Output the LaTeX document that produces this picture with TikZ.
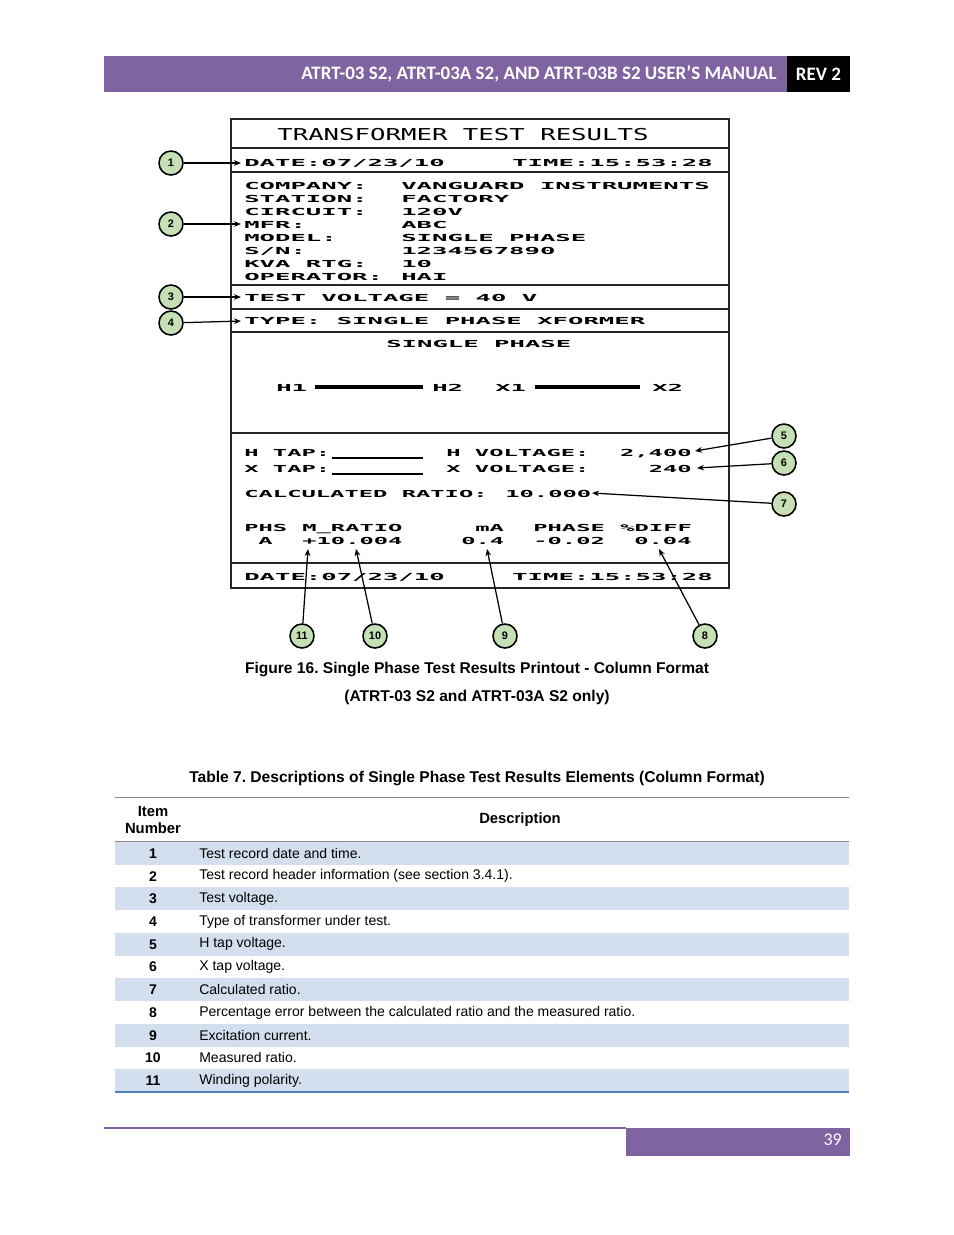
\documentclass[tikz,border=0pt]{standalone}
\usepackage{fontspec}
\setmainfont{Liberation Sans}
\newfontfamily\calib{Carlito}
\newfontfamily\prt[FakeStretch=2.65]{DejaVu Sans Mono Bold}
\newfontfamily\prs[FakeStretch=2.46]{DejaVu Sans Mono Bold}
\newfontfamily\prtT[FakeStretch=1.57]{DejaVu Sans Mono}
\usetikzlibrary{arrows.meta}
\definecolor{vpurple}{RGB}{128,100,162}
\definecolor{callg}{RGB}{197,224,180}
\definecolor{rowblue}{RGB}{211,223,238}
\definecolor{tblue}{RGB}{79,129,189}
\frenchspacing
\begin{document}
\begin{tikzpicture}[x=0.6415pt,y=-0.6415pt,
  ptx/.style={anchor=base west,inner sep=0pt,font=\prt\fontsize{6.2}{6.2}\selectfont},
  psx/.style={anchor=base west,inner sep=0pt,font=\prs\fontsize{6.2}{6.2}\selectfont},
  callout/.style={circle,draw=black,line width=1pt,fill=callg,minimum size=15.4pt,inner sep=0pt,font=\bfseries\fontsize{7}{7}\selectfont},
  arr/.style={-{Stealth[length=4.5pt,width=3.6pt]},line width=0.8pt},
  boxline/.style={line width=1.1pt,draw=black!85},
  rowtxt/.style={anchor=west,inner sep=0pt,font=\fontsize{9}{9}\selectfont},
  rownum/.style={anchor=center,inner sep=0pt,font=\bfseries\fontsize{9}{9}\selectfont},
  capt/.style={anchor=center,inner sep=0pt,font=\bfseries\fontsize{10}{10}\selectfont},
]
\useasboundingbox (0,0) rectangle (954,1235);
\fill[white] (0,0) rectangle (954,1235);

% header bar
\fill[vpurple] (104,56) rectangle (787,92);
\fill[black] (787,56) rectangle (850,92);
\node[anchor=east,inner sep=0pt,text=white,font=\calib\bfseries\fontsize{12.2}{12.2}\selectfont] (htitle) at (777,74) {ATRT-03 S2, ATRT-03A S2, AND ATRT-03B S2 USER’S MANUAL};
\node[anchor=center,inner sep=0pt,text=white,font=\calib\bfseries\fontsize{12.2}{12.2}\selectfont] (hrev) at (818.5,74) {REV 2};

% printout frame
\draw[boxline] (231,119) rectangle (729,588);
\foreach \yy in {148,172,285,309,332,433,563} \draw[boxline] (231,\yy) -- (729,\yy);

% title
\node[anchor=base west,inner sep=0pt,font=\prtT\fontsize{10.5}{10.5}\selectfont] (ttl) at (277,140) {TRANSFORMER TEST RESULTS};
% date lines
\node[ptx] (date1) at (244,166) {DATE:07/23/10};
\node[ptx] (time1) at (512,166) {TIME:15:53:28};
% header info
\node[ptx] (l1) at (244,189) {COMPANY:};   \node[ptx] (r1) at (401,189) {VANGUARD INSTRUMENTS};
\node[ptx] (l2) at (244,202) {STATION:};   \node[ptx] (r2) at (401,202) {FACTORY};
\node[ptx] (l3) at (244,215) {CIRCUIT:};   \node[ptx] (r3) at (401,215) {120V};
\node[ptx] (l4) at (244,228) {MFR:};       \node[ptx] (r4) at (401,228) {ABC};
\node[ptx] (l5) at (244,241) {MODEL:};     \node[ptx] (r5) at (401,241) {SINGLE PHASE};
\node[ptx] (l6) at (244,254) {S/N:};       \node[ptx] (r6) at (401,254) {1234567890};
\node[ptx] (l7) at (244,267) {KVA RTG:};   \node[ptx] (r7) at (401,267) {10};
\node[ptx] (l8) at (244,280) {OPERATOR:};  \node[ptx] (r8) at (401,280) {HAI};
\node[ptx] (tv) at (244,301) {TEST VOLTAGE = 40 V};
\node[ptx] (typ) at (244,324) {TYPE: SINGLE PHASE XFORMER};
\node[ptx] (sp) at (386,347) {SINGLE PHASE};
% winding diagram
\node[ptx] (h1) at (276,391) {H1};
\node[ptx] (h2) at (432,391) {H2};
\node[ptx] (x1) at (495,391) {X1};
\node[ptx] (x2) at (652,391) {X2};
\draw[line width=2pt] (315,387) -- (423,387);
\draw[line width=2pt] (535,387) -- (640,387);
% taps
\node[psx] (htap) at (244,456) {H TAP:};
\node[psx] (xtap) at (244,472) {X TAP:};
\draw[line width=0.8pt] (332,458) -- (423,458);
\draw[line width=0.8pt] (332,474) -- (423,474);
\node[psx] (hv) at (446,456) {H VOLTAGE:};
\node[psx] (xv) at (446,472) {X VOLTAGE:};
\node[psx,anchor=base east] (hvv) at (692,456) {2,400};
\node[psx,anchor=base east] (xvv) at (692,472) {240};
\node[psx] (calc) at (244,497) {CALCULATED RATIO:};
\node[psx] (calcv) at (505,497) {10.000};
% results
\node[psx] (phs) at (244,531) {PHS};
\node[psx] (mr) at (302,531) {M\_RATIO};
\node[psx] (ma) at (475,531) {mA};
\node[psx] (ph) at (533,531) {PHASE};
\node[psx] (df) at (620,531) {\%DIFF};
\node[psx] (va) at (258,544) {A};
\node[psx] (vmr) at (302,544) {+10.004};
\node[psx] (vma) at (461,544) {0.4};
\node[psx] (vph) at (533,544) {-0.02};
\node[psx] (vdf) at (634,544) {0.04};
% bottom date
\node[ptx] (date2) at (244,580) {DATE:07/23/10};
\node[ptx] (time2) at (512,580) {TIME:15:53:28};

% callouts
\node[callout] (c1) at (171,163) {1};
\node[callout] (c2) at (171,224) {2};
\node[callout] (c3) at (171,297) {3};
\node[callout] (c4) at (171,323) {4};
\node[callout] (c5) at (784,436) {5};
\node[callout] (c6) at (784,463) {6};
\node[callout] (c7) at (784,504) {7};
\node[callout] (c8) at (705,636) {8};
\node[callout] (c9) at (505,636) {9};
\node[callout] (c10) at (375,636) {10};
\node[callout] (c11) at (302,636) {11};
\coordinate (t1) at (241,163);
\coordinate (t2) at (241,224);
\coordinate (t3) at (241,297);
\coordinate (t4) at (241,321);
\coordinate (t5) at (695,451);
\coordinate (t6) at (697,468);
\coordinate (t7) at (592,493);
\coordinate (t8) at (659,549);
\coordinate (t9) at (487,549);
\coordinate (t10) at (356,549);
\coordinate (t11) at (308,549);
\foreach \k in {1,...,11} \draw[arr] (c\k) -- (t\k);

% captions
\node[capt] (cap1) at (477,669) {Figure 16. Single Phase Test Results Printout - Column Format};
\node[capt] (cap2) at (477,697) {(ATRT-03 S2 and ATRT-03A S2 only)};
\node[capt] (tcap) at (477,778) {Table 7. Descriptions of Single Phase Test Results Elements (Column Format)};

% table
\foreach \i/\d in {1/Test record date and time.,
  2/Test record header information (see section 3.4.1).,
  3/Test voltage.,
  4/Type of transformer under test.,
  5/H tap voltage.,
  6/X tap voltage.,
  7/Calculated ratio.,
  8/Percentage error between the calculated ratio and the measured ratio.,
  9/Excitation current.,
  10/Measured ratio.,
  11/Winding polarity.}{
  \pgfmathsetmacro\yt{842+(\i-1)*22.73}
  \pgfmathsetmacro\yc{\yt+11.36}
  \ifodd\i \fill[rowblue] (115,\yt) rectangle (849,\yt+22.73); \fi
  \node[rownum] (n\i) at (153,\yc) {\i};
  \node[rowtxt] (d\i) at (199,\yc) {\d};
}
\draw[line width=0.6pt,draw=black!45] (115,797) -- (849,797);
\draw[line width=0.6pt,draw=black!45] (115,841) -- (849,841);
\draw[line width=1.4pt,draw=tblue] (115,1092) -- (849,1092);
\node[anchor=center,inner sep=0pt,align=center,font=\bfseries\fontsize{9.5}{11.5}\selectfont] (hitem) at (153,820) {Item\\Number};
\node[anchor=center,inner sep=0pt,font=\bfseries\fontsize{9.5}{9.5}\selectfont] (hdesc) at (520,820) {Description};

% footer
\draw[line width=0.8pt,draw=vpurple] (104,1128) -- (626,1128);
\fill[vpurple] (626,1128) rectangle (850,1156);
\node[anchor=east,inner sep=0pt,text=white,font=\calib\fontsize{11.5}{11.5}\selectfont] (pg) at (842,1140) {39};
\end{tikzpicture}
\end{document}
